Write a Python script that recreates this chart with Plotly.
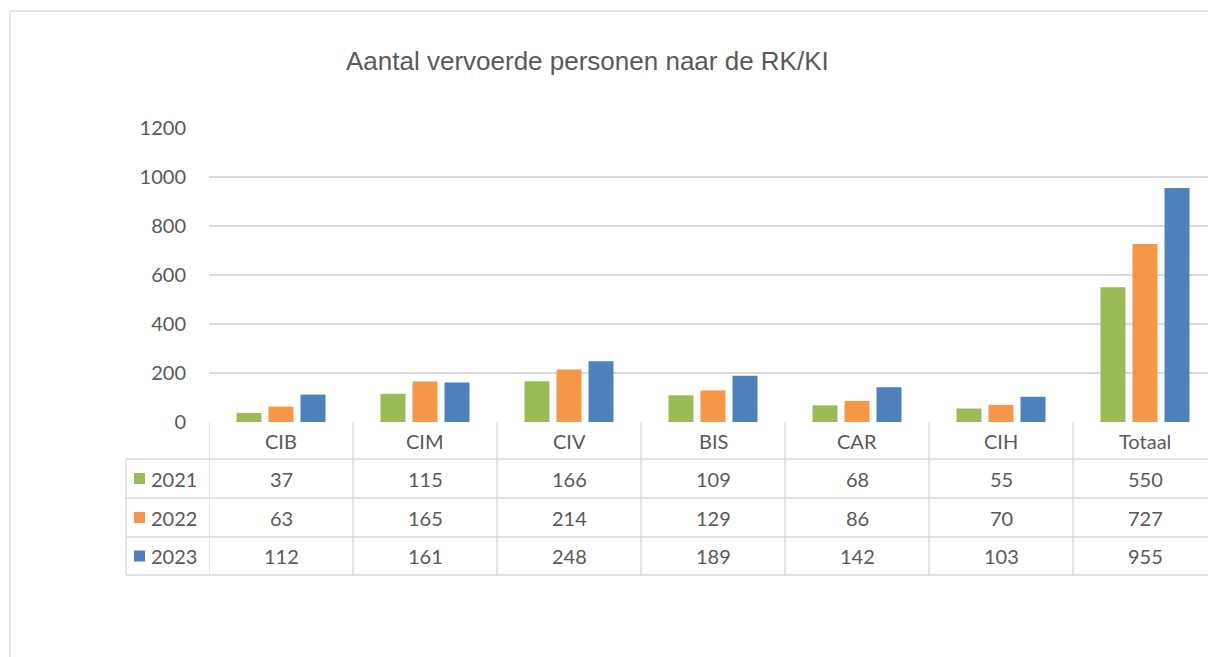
import plotly.graph_objects as go

categories = ["CIB", "CIM", "CIV", "BIS", "CAR", "CIH", "Totaal"]
series_names = ["2021", "2022", "2023"]
values_2021 = [37, 115, 166, 109, 68, 55, 550]
values_2022 = [63, 165, 214, 129, 86, 70, 727]
values_2023 = [112, 161, 248, 189, 142, 103, 955]
colors = ["#9BBB59", "#F79646", "#4F81BD"]
y_ticks = [0, 200, 400, 600, 800, 1000, 1200]
title_text = "Aantal vervoerde personen naar de RK/KI"

series_values = [values_2021, values_2022, values_2023]

OFF = 0  # body margin removed via post_script
W, H = 1208, 657
L, T, B = 209, 128, 657 - 422
PW = W - L
PH = H - T - B
TXT = "#595959"
GRID = "#d9d9d9"
FONT = "Lato"

def xp(px):
    return (px - OFF - L) / PW

def yp(py):
    return (H - B - (py - OFF)) / PH

fig = go.Figure()
for name, vals, col in zip(series_names, series_values, colors):
    fig.add_trace(go.Bar(x=list(range(len(categories))), y=vals, name=name,
                         marker=dict(color=col, line=dict(width=0)),
                         showlegend=False, hoverinfo="skip"))

ncat_visible = PW / 144.0
shapes = []
annotations = []

# outer chart border
shapes.append(dict(type="rect", xref="paper", yref="paper",
                   x0=xp(10), x1=xp(1240), y0=yp(700), y1=yp(11),
                   line=dict(color=GRID, width=1.3), layer="below"))

row_lines = [459, 498, 537, 575]
for k in range(len(categories) + 1):
    shapes.append(dict(type="line", xref="x", yref="paper",
                       x0=k - 0.5, x1=k - 0.5, y0=yp(422), y1=yp(575),
                       line=dict(color=GRID, width=1.3)))
for r in row_lines:
    shapes.append(dict(type="line", xref="paper", yref="paper",
                       x0=xp(126), x1=xp(1240), y0=yp(r), y1=yp(r),
                       line=dict(color=GRID, width=1.3)))
shapes.append(dict(type="line", xref="paper", yref="paper",
                   x0=xp(126), x1=xp(126), y0=yp(459), y1=yp(575),
                   line=dict(color=GRID, width=1.3)))

for i, c in enumerate(categories):
    annotations.append(dict(x=i, y=yp(441), xref="x", yref="paper", text=c,
                            showarrow=False, font=dict(family=FONT, size=20, color=TXT),
                            xanchor="center", yanchor="middle"))

row_centers = [478.5, 517.5, 556]
for name, vals, col, rc in zip(series_names, series_values, colors, row_centers):
    shapes.append(dict(type="rect", xref="paper", yref="paper",
                       x0=xp(134), x1=xp(145), y0=yp(rc + 5.5), y1=yp(rc - 5.5),
                       fillcolor=col, line=dict(width=0)))
    annotations.append(dict(x=xp(149), y=yp(rc), xref="paper", yref="paper", text=name,
                            showarrow=False, font=dict(family=FONT, size=20, color=TXT),
                            xanchor="left", yanchor="middle"))
    for i, v in enumerate(vals):
        annotations.append(dict(x=i, y=yp(rc), xref="x", yref="paper", text=str(v),
                                showarrow=False, font=dict(family=FONT, size=20, color=TXT),
                                xanchor="center", yanchor="middle"))

annotations.append(dict(x=xp(587), y=yp(61), xref="paper", yref="paper", text=title_text,
                        showarrow=False,
                        font=dict(family="Liberation Sans, Arial", size=26, color=TXT),
                        xanchor="center", yanchor="middle"))

fig.update_layout(
    width=W, height=H,
    margin=dict(l=L, r=0, t=T, b=B, pad=0),
    paper_bgcolor="white", plot_bgcolor="white",
    barmode="group", bargap=1 - 96 / 144, bargroupgap=7 / 32,
    shapes=shapes, annotations=annotations,
    hovermode=False,
    xaxis=dict(range=[-0.5, -0.5 + ncat_visible], showticklabels=False,
               showgrid=False, zeroline=False, showline=False, fixedrange=True),
    yaxis=dict(range=[0, 1200], tickvals=y_ticks, showgrid=True, gridcolor=GRID,
               gridwidth=1.3, zeroline=False, showline=False,
               tickfont=dict(family=FONT, size=20, color=TXT),
               ticklabelstandoff=22, fixedrange=True),
)

fig.write_html("out.html",
               config={"displayModeBar": False, "staticPlot": True},
               post_script="document.body.style.margin='0';document.body.style.overflow='hidden';")
